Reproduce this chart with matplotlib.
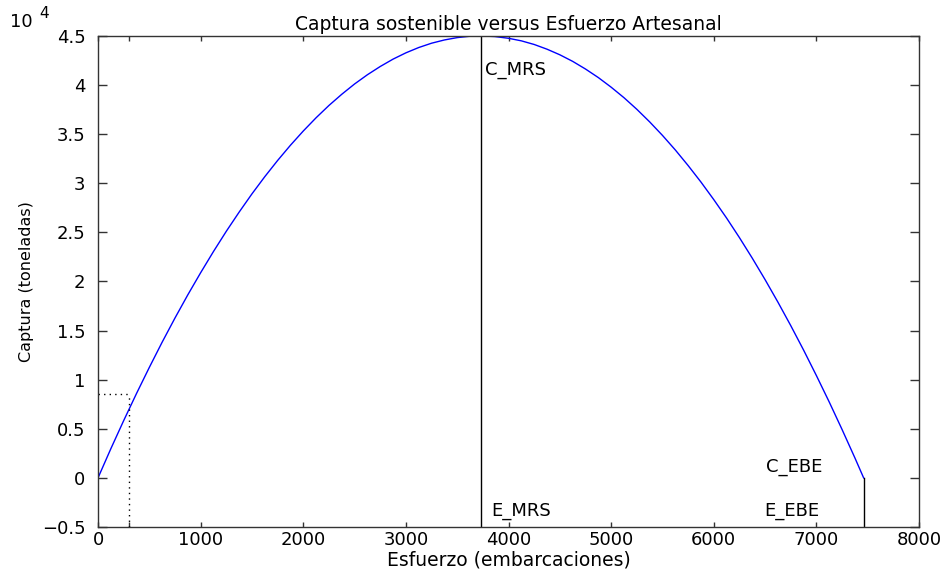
import numpy as np
import matplotlib.pyplot as plt
from matplotlib.ticker import FuncFormatter

plt.rcParams['font.family'] = ['DejaVu Sans']

# curva captura sostenible (toneladas) vs esfuerzo (embarcaciones)
esfuerzo = [0, 125, 250, 375, 500, 625, 750, 875, 1000, 1125, 1250, 1375, 1500,
            1625, 1750, 1875, 2000, 2125, 2250, 2375, 2500, 2625, 2750, 2875,
            3000, 3125, 3250, 3375, 3500, 3615, 3730, 3865, 4000, 4125, 4250,
            4375, 4500, 4625, 4750, 4875, 5000, 5125, 5250, 5375, 5500, 5625,
            5750, 5875, 6000, 6125, 6250, 6375, 6500, 6625, 6750, 6875, 7000,
            7125, 7250, 7375, 7460]
captura = [0, 2970, 5830, 8590, 11250, 13820, 16280, 18640, 20890, 23050,
           25110, 27060, 28920, 30670, 32320, 33870, 35320, 36670, 37920,
           39060, 40110, 41050, 41890, 42640, 43280, 43820, 44260, 44590,
           44830, 44960, 45000, 44940, 44760, 44500, 44130, 43650, 43080,
           42410, 41630, 40760, 39780, 38710, 37530, 36250, 34870, 33390,
           31800, 30120, 28330, 26450, 24460, 22370, 20180, 17890, 15500,
           13010, 10410, 7720, 4920, 2030, 0]

E_MRS, C_MRS = 3730, 45000
E_EBE, C_EBE = 7460, 0
E_obs, C_obs = 305, 8520

escala = 1e4
ymin = -0.5

fig = plt.figure(figsize=(9.47, 5.75), dpi=100)
ax = fig.add_axes([0.1035, 0.0835, 0.867, 0.854])

ax.plot(esfuerzo, np.array(captura) / escala, color='#0000ff', lw=1.0)

# lineas verticales MRS y EBE
ax.plot([E_MRS, E_MRS], [ymin, C_MRS / escala], color='black', lw=1.0)
ax.plot([E_EBE, E_EBE], [ymin, C_EBE / escala], color='black', lw=1.0)

# punteadas del punto observado
ax.plot([0, E_obs], [C_obs / escala, C_obs / escala], color='black', lw=1.0, ls=(0, (1, 3)))
ax.plot([E_obs, E_obs], [ymin, C_obs / escala], color='black', lw=1.0, ls=(0, (1, 3)))

fs = 13
ax.text(E_MRS + 38, 4.155, 'C_MRS', fontsize=fs, va='center', ha='left')
ax.text(E_MRS + 97, -0.336, 'E_MRS', fontsize=fs, va='center', ha='left')
ax.text(E_EBE - 956, 0.112, 'C_EBE', fontsize=fs, va='center', ha='left')
ax.text(E_EBE - 965, -0.336, 'E_EBE', fontsize=fs, va='center', ha='left')

ax.set_xlim(0, 8000)
ax.set_ylim(ymin, 4.5)
ax.set_xticks(np.arange(0, 8001, 1000))
ax.set_yticks(np.arange(-0.5, 4.51, 0.5))
ax.set_xticks([E_obs], minor=True)
ax.yaxis.set_major_formatter(FuncFormatter(lambda v, p: ('%g' % v).replace('-', '\u2212')))

ax.tick_params(which='both', direction='in', top=True, right=True, labelsize=fs,
               width=1.0, color='#333333')
ax.tick_params(axis='x', which='both', length=3.6, pad=3)
ax.tick_params(axis='y', length=6.5, pad=9)
for s in ax.spines.values():
    s.set_linewidth(1.0)
    s.set_color('#333333')

ax.set_title('Captura sostenible versus Esfuerzo Artesanal', fontsize=13.5, pad=4)
ax.set_xlabel('Esfuerzo (embarcaciones)', fontsize=13.5, labelpad=1)
ax.set_ylabel('Captura (toneladas)', fontsize=11.5, labelpad=6)

fig.text(10 / 947, 1 - 22 / 575, '10', fontsize=fs, va='center', ha='left')
fig.text(39 / 947, 1 - 13 / 575, '4', fontsize=fs * 0.85, va='center', ha='left')

fig.savefig('out.png', dpi=100)
